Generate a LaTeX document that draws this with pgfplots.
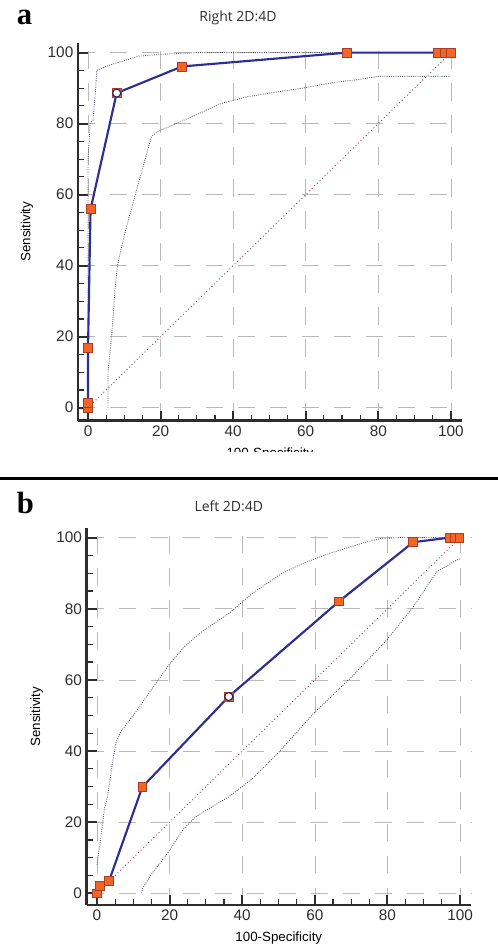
\documentclass[border=0pt]{standalone}
\usepackage{fontspec}
\setmainfont{Liberation Sans}
\newfontfamily\titlefont{Open Sans}
\newfontfamily\panelfont{Liberation Serif}
\usepackage{pgfplots}
\pgfplotsset{compat=1.18}

\definecolor{rocblue}{RGB}{45,45,150}
\definecolor{sqfill}{RGB}{242,101,34}
\definecolor{sqedge}{RGB}{170,60,40}
\definecolor{diagc}{RGB}{140,70,80}
\definecolor{bandc}{RGB}{85,85,110}
\definecolor{gridc}{RGB}{185,185,185}
\definecolor{axc}{RGB}{45,45,45}

\pgfplotsset{
  rocaxis/.style={
    scale only axis,
    axis x line=bottom, axis y line=left,
    axis line style={-, line width=2pt, axc},
    tick align=inside,
    xtick={0,20,...,100}, ytick={0,20,...,100},
    minor x tick num=3, minor y tick num=3,
    major tick length=7.5pt, minor tick length=4.5pt,
    major tick style={line width=1.6pt, axc},
    minor tick style={line width=0.9pt, axc},
    grid=major,
    major grid style={gridc, line width=0.45pt, dash pattern=on 13pt off 11pt},
    ticklabel style={font=\fontsize{11.5}{13}\selectfont, text=axc},
    /pgf/number format/assume math mode=true,
    label style={font=\fontsize{11.5}{13}\selectfont, text=axc},
    every axis y label/.style={rotate=90, anchor=center},
    every axis x label/.style={anchor=center},
    title style={font=\titlefont\fontsize{10.5}{12}\selectfont, text=axc, anchor=center},
    ylabel={Sensitivity}, xlabel={100-Specificity},
    clip=false,
  },
  roc/.style={rocblue, line width=1.6pt, mark=square*, mark size=3.3pt,
    mark options={fill=sqfill, draw=sqedge, line width=0.5pt, solid}},
  cut/.style={only marks, mark=*, mark size=3pt,
    mark options={fill=white, draw=rocblue!70!black, line width=0.8pt}},
  band/.style={bandc, line width=0.65pt, densely dotted},
  diag/.style={diagc, line width=0.7pt, dotted},
}

\begin{document}
\begin{tikzpicture}
\useasboundingbox (0,0) rectangle (373.5pt,-711.75pt);

% panel a
\node[anchor=base west, inner sep=0, font=\panelfont\bfseries\fontsize{23}{23}\selectfont] at (12.5pt,-18.75pt) {a};
\begin{axis}[rocaxis,
  at={(58.5pt,-315.5pt)}, anchor=south west,
  width=287.8pt, height=283.5pt,
  xmin=-2.76, xmax=103, ymin=-3.66, ymax=102.8,
  title={Right 2D:4D},
  title style={at={(axis description cs:0.417,1.044)}},
  xlabel style={at={(axis description cs:0.5,-0.087)}},
  ylabel style={at={(axis description cs:-0.133,0.5)}},
]
\addplot[band] coordinates {(0,0) (0,70) (0.6,80) (1.4,81) (1.8,86) (2.1,90) (2.4,95) (6,96.5) (14,99) (20,99.5) (30,100) (100,100)};
\addplot[band] coordinates {(5.5,0) (5.5,10) (6.2,17) (6.9,25) (7.4,33) (8.1,40) (10.1,49) (13.3,61) (17.5,76.4) (19.3,77.8) (27.6,81.5) (36.8,85.7) (44,87.6) (52,88.9) (58,89.8) (66.7,91.4) (75,92.5) (80,93.3) (100,93.3)};
\addplot[diag] coordinates {(0,0) (100,100)};
\addplot[roc] coordinates {(0,0) (0,1.3) (0,16.8) (0.7,55.9) (7.9,88.6) (25.9,96.1) (71.4,100) (96.3,100) (98.2,100) (100,100)};
\addplot[cut] coordinates {(7.9,88.6)};
\end{axis}
% the x title of panel a is cut off in the original
\fill[white] (112pt,-339pt) rectangle (300pt,-357pt);

\draw[line width=2.25pt] (0,-358.9pt) -- (373.5pt,-358.9pt);

% panel b
\node[anchor=base west, inner sep=0, font=\panelfont\bfseries\fontsize{23}{23}\selectfont] at (12.5pt,-385pt) {b};
\begin{axis}[rocaxis,
  at={(65pt,-678.75pt)}, anchor=south west,
  width=288.2pt, height=282.5pt,
  xmin=-2.84, xmax=103, ymin=-3.3, ymax=102.6,
  title={Left 2D:4D},
  title style={at={(axis description cs:0.370,1.038)}},
  xlabel style={at={(axis description cs:0.5,-0.088)}},
  ylabel style={at={(axis description cs:-0.130,0.5)}},
]
\addplot[band] coordinates {(0,8) (1.1,16) (2,23.5) (2.9,27.2) (3.6,31.9) (4.3,37) (5.2,42.2) (6.6,45.5) (10.7,51) (15.3,57.7) (19.9,64.3) (24.1,69.4) (29.1,73.7) (36.5,78.8) (42.9,84.4) (51,90) (56.8,92.8) (64.2,95.6) (72.9,98.4) (78,99.7) (83,100) (100,100)};
\addplot[band] coordinates {(12.3,0) (12.6,1.4) (14.9,5.2) (19.5,11.3) (23.6,17.8) (27.3,21.6) (36.4,27.2) (42.9,32.3) (50.2,39.8) (59.6,50.5) (70.2,60.9) (79.8,71.2) (87.1,80.5) (93.6,90.4) (99.1,93.7) (100,94)};
\addplot[diag] coordinates {(0,0) (100,100)};
\addplot[roc] coordinates {(0,0) (0.8,2.2) (3.3,3.4) (12.5,29.9) (36.3,55.3) (66.7,82.1) (87.1,98.7) (97.2,100) (98.6,100) (99.8,100)};
\addplot[cut] coordinates {(36.3,55.3)};
\end{axis}
\end{tikzpicture}
\end{document}
